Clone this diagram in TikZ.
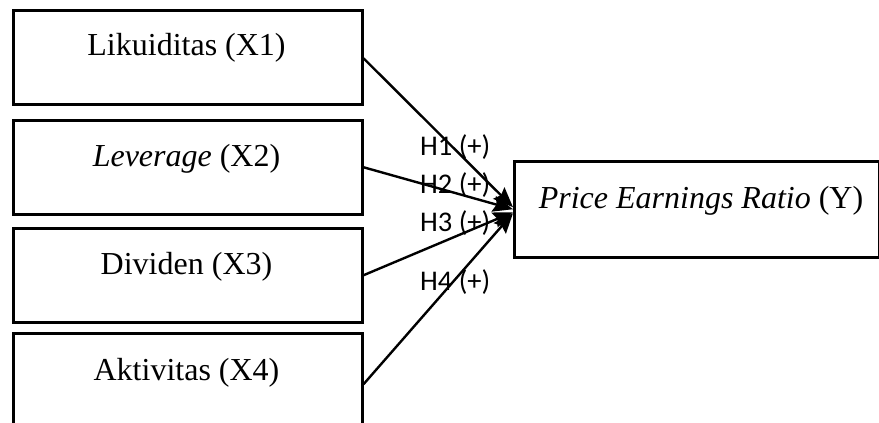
\documentclass[tikz,border=0pt]{standalone}
\usepackage{fontspec}
\setmainfont{Liberation Serif}
\newfontfamily\lblfont{Carlito}
\usetikzlibrary{arrows.meta,calc}
\begin{document}
\begin{tikzpicture}[x=1pt,y=-1pt,
  varbox/.style={draw=black,line width=2.5pt,minimum width=349pt,minimum height=94pt,inner sep=0pt,anchor=north west},
  boxtext/.style={font=\fontsize{32}{36}\selectfont,anchor=base,inner sep=0pt},
  hlabel/.style={font=\lblfont\fontsize{28.5}{32}\selectfont,anchor=base west,inner sep=0pt},
  hyparrow/.style={line width=2.4pt,-{Stealth[length=20pt,width=16pt,inset=3pt]}}]
\useasboundingbox (0,0) rectangle (879,423);
\clip (0,0) rectangle (879,423);
\node[varbox] (x1) at (12,9) {};
\node[varbox] (x2) at (12,119) {};
\node[varbox] (x3) at (12,227) {};
\node[varbox,minimum height=102pt] (x4) at (12,332) {};
\node[varbox,minimum width=365pt,minimum height=96pt] (y) at (513,160) {};
\node[boxtext] (t1) at (186.5,56) {Likuiditas (X1)};
\node[boxtext] (t2) at (186.5,166) {\textit{Leverage} (X2)};
\node[boxtext] (t3) at (186.5,274) {Dividen (X3)};
\node[boxtext] (t4) at (186.5,380) {Aktivitas (X4)};
\node[boxtext] (ty) at (701,208) {\textit{Price Earnings Ratio} (Y)};
\coordinate (s1) at ($(x1.east)+(0,1)$);
\coordinate (s4) at ($(x4.east)+(0,0)$);
\coordinate (e1) at ($(y.west)+(0,-2)$);
\coordinate (e2) at ($(y.west)+(0,0)$);
\coordinate (e3) at ($(y.west)+(0,3)$);
\coordinate (e4) at ($(y.west)+(0,4)$);
\draw[hyparrow] (s1) -- (e1);
\draw[hyparrow] (x2.east) -- (e2);
\draw[hyparrow] (x3.east) -- (e3);
\draw[hyparrow] (s4) -- (e4);
\node[hlabel] (h1) at (420,155) {H1 (+)};
\node[hlabel] (h2) at (420,193) {H2 (+)};
\node[hlabel] (h3) at (420,231) {H3 (+)};
\node[hlabel] (h4) at (420,290) {H4 (+)};
\end{tikzpicture}
\end{document}
